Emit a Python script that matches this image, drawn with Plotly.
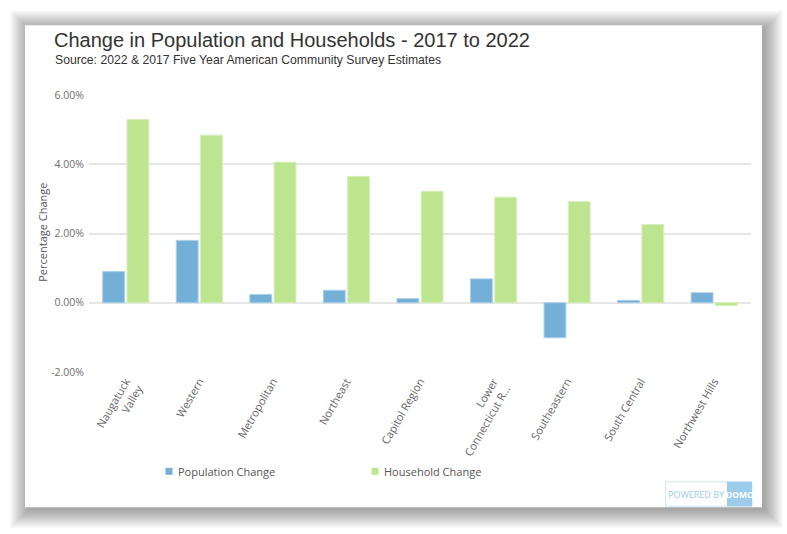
import plotly.graph_objects as go

W, H = 787, 534
categories = ["Naugatuck<br>Valley", "Western", "Metropolitan", "Northeast", "Capitol Region",
              "Lower<br>Connecticut R...", "Southeastern", "South Central", "Northwest Hills"]
population_change = [0.0090, 0.0180, 0.0024, 0.0036, 0.0012, 0.0069, -0.0101, 0.0007, 0.0029]
household_change = [0.0529, 0.0484, 0.0406, 0.0365, 0.0322, 0.0305, 0.0292, 0.0226, -0.0008]
tick_vals = [-0.02, 0.0, 0.02, 0.04, 0.06]
tick_text = ["-2.00%", "0.00%", "2.00%", "4.00%", "6.00%"]

BLUE = "#73AFD6"
GREEN = "#BDE48F"

# plot area in pixels
L, R, T, B = 89, 751, 95, 372.5
def px(x):
    return (x - L) / (R - L)
def py(y):
    return (B - y) / (B - T)

fig = go.Figure()
fig.add_trace(go.Bar(x=categories, y=population_change, name="Population Change",
                     marker=dict(color=BLUE, line=dict(color="#A9D0EA", width=1))))
fig.add_trace(go.Bar(x=categories, y=household_change, name="Household Change",
                     marker=dict(color=GREEN, line=dict(color="#D6F0B9", width=1))))

shapes = []
# soft card shadow, offset to bottom-right
for d in range(18, -1, -1):
    shapes.append(dict(type="rect", xref="paper", yref="paper", layer="below",
                       x0=px(25 - d + 3), x1=px(762 + d + 3), y0=py(508 + d + 3), y1=py(25 - d + 3),
                       fillcolor="black", opacity=0.021, line=dict(width=0)))
shapes.append(dict(type="rect", xref="paper", yref="paper", layer="below",
                   x0=px(25), x1=px(762), y0=py(508), y1=py(25),
                   fillcolor="white", line=dict(width=0)))
# legend squares
for cx, col in [(169, BLUE), (375, GREEN)]:
    shapes.append(dict(type="rect", xref="paper", yref="paper",
                       x0=px(cx - 3.5), x1=px(cx + 3.5), y0=py(475.5), y1=py(468.5),
                       fillcolor=col, line=dict(width=0)))
# DOMO badge
shapes.append(dict(type="rect", xref="paper", yref="paper",
                   x0=px(665.5), x1=px(752), y0=py(507), y1=py(482.5),
                   fillcolor="white", line=dict(color="#CFE6F6", width=1)))
shapes.append(dict(type="rect", xref="paper", yref="paper",
                   x0=px(727), x1=px(752), y0=py(507), y1=py(482.5),
                   fillcolor="#9CCBEB", line=dict(width=0)))

annotations = [
    dict(text="Change in Population and Households - 2017 to 2022", x=px(52), y=py(40),
         xanchor="left", yanchor="middle", showarrow=False, xref="paper", yref="paper",
         font=dict(family="Liberation Sans, Arial", size=20, color="#333333")),
    dict(text="Source: 2022 & 2017 Five Year American Community Survey Estimates", x=px(53), y=py(60),
         xanchor="left", yanchor="middle", showarrow=False, xref="paper", yref="paper",
         font=dict(family="Liberation Sans, Arial", size=12.2, color="#333333")),
    dict(text="Percentage Change", x=px(43), y=py(233), xanchor="center", yanchor="middle",
         textangle=-90, showarrow=False, xref="paper", yref="paper",
         font=dict(family="Open Sans", size=11, color="#555555")),
    dict(text="Population Change", x=px(176), y=py(472.5), xanchor="left", yanchor="middle",
         showarrow=False, xref="paper", yref="paper",
         font=dict(family="Open Sans", size=11, color="#555555")),
    dict(text="Household Change", x=px(382), y=py(472.5), xanchor="left", yanchor="middle",
         showarrow=False, xref="paper", yref="paper",
         font=dict(family="Open Sans", size=11, color="#555555")),
    dict(text="POWERED BY", x=px(696), y=py(495), xanchor="center", yanchor="middle",
         showarrow=False, xref="paper", yref="paper",
         font=dict(family="Open Sans", size=9, color="#9CCBEB")),
    dict(text="<b>DOMO</b>", x=px(740), y=py(495), xanchor="center", yanchor="middle",
         showarrow=False, xref="paper", yref="paper",
         font=dict(family="Open Sans", size=8.5, color="white")),
]

fig.update_layout(
    width=W, height=H,
    margin=dict(l=L, r=W - R, t=T, b=H - B),
    paper_bgcolor="white", plot_bgcolor="rgba(0,0,0,0)",
    barmode="group", bargap=0.34, bargroupgap=0.1,
    showlegend=False,
    shapes=shapes, annotations=annotations,
    font=dict(family="Open Sans", size=11, color="#666666"),
)
fig.update_xaxes(tickangle=-60, tickfont=dict(family="Open Sans", size=11, color="#666666"),
                 showgrid=False, showline=False, ticks="", automargin=False)
fig.update_yaxes(range=[-0.02, 0.06], tickvals=tick_vals, ticktext=tick_text,
                 gridcolor="#E6E6E6", gridwidth=1.5, zeroline=False, showline=False,
                 ticks="", ticklabelstandoff=4,
                 tickfont=dict(family="Open Sans", size=10.5, color="#6E6E6E"),
                 automargin=False)

fig.write_html("out.html")
